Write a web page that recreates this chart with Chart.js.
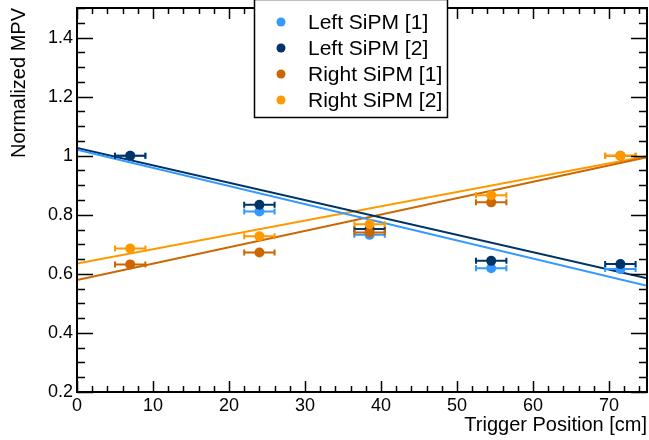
<!DOCTYPE html>
<html><head><meta charset="utf-8">
<script src="https://cdn.jsdelivr.net/npm/chart.js@4/dist/chart.umd.min.js"></script>
<style>html,body{margin:0;padding:0;background:#fff;}canvas{display:block;}</style>
</head><body>
<canvas id="c" width="649" height="440"></canvas>
<script>
const SERIES_NAMES = ['Left SiPM [1]', 'Left SiPM [2]', 'Right SiPM [1]', 'Right SiPM [2]'];
const SERIES_COLORS = ['#3399ff', '#003366', '#cc6600', '#ff9900'];
const POSITIONS = [7, 24, 38.5, 54.5, 71.5];
const POSITION_ERR = [2, 2, 2, 2, 2];
const LEFT1 = [1.0, 0.811, 0.732, 0.619, 0.616];
const LEFT2 = [1.0, 0.834, 0.752, 0.644, 0.633];
const RIGHT1 = [0.632, 0.672, 0.740, 0.842, 1.0];
const RIGHT2 = [0.686, 0.727, 0.768, 0.866, 1.0];
const FIT_X = [0, 75];
const FIT_LEFT1 = [1.020, 0.560];
const FIT_LEFT2 = [1.026, 0.585];
const FIT_RIGHT1 = [0.579, 0.995];
const FIT_RIGHT2 = [0.635, 0.998];
const X_TICKS = [0, 10, 20, 30, 40, 50, 60, 70];
const X_TICK_LABELS = ['0', '10', '20', '30', '40', '50', '60', '70'];
const Y_TICKS = [0.2, 0.4, 0.6, 0.8, 1, 1.2, 1.4];
const Y_TICK_LABELS = ['0.2', '0.4', '0.6', '0.8', '1', '1.2', '1.4'];
const X_TITLE = 'Trigger Position [cm]';
const Y_TITLE = 'Normalized MPV';

const SERIES_VALUES = [LEFT1, LEFT2, RIGHT1, RIGHT2];
const FIT_VALUES = [FIT_LEFT1, FIT_LEFT2, FIT_RIGHT1, FIT_RIGHT2];
const FONT = "'Liberation Sans', Arial, Helvetica, sans-serif";

const datasets = [];
SERIES_NAMES.forEach((name, s) => {
  datasets.push({
    label: name,
    isPoints: true,
    data: POSITIONS.map((x, i) => ({x: x, y: SERIES_VALUES[s][i], xErr: POSITION_ERR[i]})),
    showLine: false,
    pointRadius: 5,
    pointHoverRadius: 5,
    pointBorderWidth: 0,
    backgroundColor: SERIES_COLORS[s],
    borderColor: SERIES_COLORS[s],
    order: 3 - s
  });
});
SERIES_NAMES.forEach((name, s) => {
  datasets.push({
    label: name + ' fit',
    isPoints: false,
    data: FIT_X.map((x, i) => ({x: x, y: FIT_VALUES[s][i]})),
    showLine: true,
    pointRadius: 0,
    borderWidth: 2,
    borderColor: SERIES_COLORS[s],
    backgroundColor: SERIES_COLORS[s],
    tension: 0,
    order: 10 + s
  });
});

const errorBars = {
  id: 'errorBars',
  beforeDatasetDraw(chart, args) {
    const ds = chart.data.datasets[args.index];
    if (!ds.isPoints) return;
    const {ctx, scales: {x, y}} = chart;
    ctx.save();
    ctx.strokeStyle = ds.borderColor;
    ctx.lineWidth = 2;
    ds.data.forEach(p => {
      const x0 = x.getPixelForValue(p.x - p.xErr);
      const x1 = x.getPixelForValue(p.x + p.xErr);
      const py = y.getPixelForValue(p.y);
      ctx.beginPath();
      ctx.moveTo(x0, py); ctx.lineTo(x1, py);
      ctx.moveTo(x0, py - 3); ctx.lineTo(x0, py + 3);
      ctx.moveTo(x1, py - 3); ctx.lineTo(x1, py + 3);
      ctx.stroke();
    });
    ctx.restore();
  }
};

const frameAndLegend = {
  id: 'frameAndLegend',
  afterDraw(chart) {
    const {ctx, chartArea: a, scales: {x, y}} = chart;
    ctx.save();
    ctx.strokeStyle = '#000';
    ctx.lineWidth = 1.5;
    ctx.beginPath();
    for (let i = 0; ; i++) {
      const v = i * 2;
      if (v > x.max + 1e-9) break;
      const px = Math.round(x.getPixelForValue(v)) + 0.5;
      const len = (v % 10 === 0) ? 11 : 6;
      ctx.moveTo(px, a.bottom); ctx.lineTo(px, a.bottom - len);
      ctx.moveTo(px, a.top); ctx.lineTo(px, a.top + len);
    }
    for (let i = 0; ; i++) {
      const v = y.min + i * 0.05;
      if (v > y.max + 1e-9) break;
      const py = Math.round(y.getPixelForValue(v)) + 0.5;
      const major = Math.round(v * 100) % 20 === 0;
      const len = major ? 16 : 8;
      ctx.moveTo(a.left, py); ctx.lineTo(a.left + len, py);
      ctx.moveTo(a.right, py); ctx.lineTo(a.right - len, py);
    }
    ctx.stroke();
    ctx.lineWidth = 2;
    ctx.strokeRect(a.left, a.top, a.right - a.left, a.bottom - a.top);

    // legend
    const lx = 254, ly = -1, lw = 193, lh = 118;
    ctx.fillStyle = '#fff';
    ctx.fillRect(lx, ly, lw, lh);
    ctx.lineWidth = 1.5;
    ctx.strokeStyle = '#000';
    ctx.strokeRect(lx + 0.5, ly + 0.5, lw, lh);
    ctx.font = '21px ' + FONT;
    ctx.textBaseline = 'middle';
    ctx.textAlign = 'left';
    const pts = chart.data.datasets.filter(d => d.isPoints);
    pts.forEach((d, i) => {
      const cy = 22 + i * 26;
      ctx.fillStyle = d.backgroundColor;
      ctx.beginPath();
      ctx.arc(281, cy, 4.5, 0, Math.PI * 2);
      ctx.fill();
      ctx.fillStyle = '#000';
      ctx.fillText(d.label, 308, cy + 1);
    });
    ctx.restore();
  }
};

new Chart(document.getElementById('c'), {
  type: 'line',
  data: {datasets: datasets},
  options: {
    responsive: false,
    animation: false,
    devicePixelRatio: 1,
    layout: {autoPadding: false, padding: {top: 8, right: 2, left: 0, bottom: 0}},
    plugins: {legend: {display: false}, tooltip: {enabled: false}},
    scales: {
      x: {
        type: 'linear',
        min: 0, max: 75,
        afterBuildTicks: s => { s.ticks = X_TICKS.map(v => ({value: v})); },
        afterFit: s => { s.height = 48; s.paddingLeft = 0; s.paddingRight = 0; },
        ticks: {
          color: '#000', font: {family: FONT, size: 18}, padding: 3,
          maxRotation: 0, autoSkip: false,
          callback: (v) => X_TICK_LABELS[X_TICKS.indexOf(v)]
        },
        grid: {display: false, drawTicks: false},
        border: {display: false},
        title: {display: true, text: X_TITLE, align: 'end', color: '#000',
                font: {family: FONT, size: 20}, padding: {top: 0, bottom: 3}}
      },
      y: {
        type: 'linear',
        min: 0.2, max: 1.5,
        afterBuildTicks: s => { s.ticks = Y_TICKS.map(v => ({value: v})); },
        afterFit: s => { s.width = 77; s.paddingTop = 0; s.paddingBottom = 0; },
        ticks: {
          color: '#000', font: {family: FONT, size: 18}, padding: 4,
          autoSkip: false,
          callback: (v) => Y_TICK_LABELS[Y_TICKS.findIndex(t => Math.abs(t - v) < 1e-9)]
        },
        grid: {display: false, drawTicks: false},
        border: {display: false},
        title: {display: true, text: Y_TITLE, align: 'end', color: '#000',
                font: {family: FONT, size: 20}, padding: {top: 7, bottom: 0}}
      }
    }
  },
  plugins: [errorBars, frameAndLegend]
});
</script>
</body></html>
